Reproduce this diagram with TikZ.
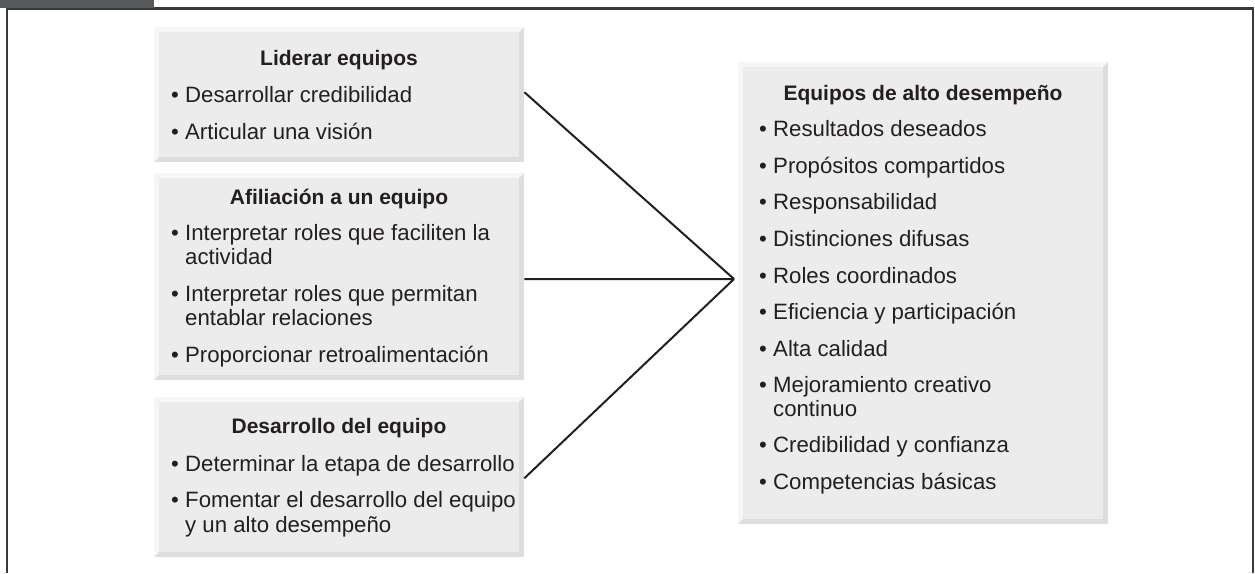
\documentclass[tikz,border=0pt]{standalone}
\usepackage{fontspec}
\setmainfont{Liberation Sans}
\definecolor{boxface}{HTML}{ECECEC}
\definecolor{bevlight}{HTML}{F6F6F6}
\definecolor{bevdark}{HTML}{DCDDDF}
\definecolor{ink}{HTML}{231F20}
\definecolor{hdr}{HTML}{58595B}
\definecolor{framec}{HTML}{3A3A3A}
\tikzset{
  face/.style={fill=boxface, draw=none, inner sep=0, anchor=north west},
  conn/.style={draw=ink, line width=2pt},
  itemtxt/.style={anchor=base west, inner sep=0, text=ink, font=\fontsize{22.2}{23}\selectfont},
  headtxt/.style={anchor=base, inner sep=0, text=ink, font=\fontsize{21}{22}\selectfont\bfseries},
}
\newcommand\bevbox[5]{%
  \fill[bevdark] (#2,#3) rectangle (#4,#5);
  \fill[bevlight] (#2,#3) -- (#4,#3) -- (#4-5,#3+5) -- (#2+5,#3+5) -- (#2+5,#5-5) -- (#2,#5) -- cycle;
  \node[face, minimum width={#4-#2-10}, minimum height={#5-#3-10}] (#1) at (#2+5,#3+5) {};
}
\newcommand\bul{\makebox[14pt][l]{•}}
\begin{document}
\begin{tikzpicture}[x=1pt,y=-1pt]
\useasboundingbox (0,0) rectangle (1255,573);
\fill[white] (0,0) rectangle (1255,573);
% frame
\draw[framec, line width=2.5pt] (7,573) -- (7,8.5) -- (1253,8.5) -- (1253,573);
\fill[hdr] (0,0) rectangle (154,7.5);
% boxes
\bevbox{b1}{154}{27}{524}{162}
\bevbox{b2}{154}{173}{524}{380}
\bevbox{b3}{154}{397}{524}{557}
\bevbox{r}{738}{62}{1108}{524}
% connectors
\coordinate (apex) at (734,279);
\draw[conn] ([xshift=5pt,yshift=2.5pt]b1.east) -- (apex);
\draw[conn] ([xshift=5pt,yshift=-2.5pt]b2.east) -- (apex);
\draw[conn] ([xshift=5pt,yshift=-1pt]b3.east) -- (apex);
% box 1
\node[headtxt] (h1) at (339,65) {Liderar equipos};
\node[itemtxt] (t11) at (171,102.7) {\bul Desarrollar credibilidad};
\node[itemtxt] (t12) at (171,139) {\bul Articular una visión};
% box 2
\node[headtxt] (h2) at (339,204) {Afiliación a un equipo};
\node[itemtxt] (t21) at (171,240) {\bul Interpretar roles que faciliten la};
\node[itemtxt] (t21b) at (185,264) {actividad};
\node[itemtxt] (t22) at (171,301) {\bul Interpretar roles que permitan};
\node[itemtxt] (t22b) at (185,325) {entablar relaciones};
\node[itemtxt] (t23) at (171,362) {\bul Proporcionar retroalimentación};
% box 3
\node[headtxt] (h3) at (339,433) {Desarrollo del equipo};
\node[itemtxt] (t31) at (171,471) {\bul Determinar la etapa de desarrollo};
\node[itemtxt] (t32) at (171,507) {\bul Fomentar el desarrollo del equipo};
\node[itemtxt] (t32b) at (185,532) {y un alto desempeño};
% right box
\node[headtxt] (h4) at (923,100) {Equipos de alto desempeño};
\node[itemtxt] (r1) at (759,136.7) {\bul Resultados deseados};
\node[itemtxt] (r2) at (759,173.3) {\bul Propósitos compartidos};
\node[itemtxt] (r3) at (759,209.9) {\bul Responsabilidad};
\node[itemtxt] (r4) at (759,246.5) {\bul Distinciones difusas};
\node[itemtxt] (r5) at (759,283.1) {\bul Roles coordinados};
\node[itemtxt] (r6) at (759,319.7) {\bul Eficiencia y participación};
\node[itemtxt] (r7) at (759,356.3) {\bul Alta calidad};
\node[itemtxt] (r8) at (759,392.9) {\bul Mejoramiento creativo};
\node[itemtxt] (r8b) at (773,416.2) {continuo};
\node[itemtxt] (r9) at (759,452.8) {\bul Credibilidad y confianza};
\node[itemtxt] (r10) at (759,489.4) {\bul Competencias básicas};
\end{tikzpicture}
\end{document}
